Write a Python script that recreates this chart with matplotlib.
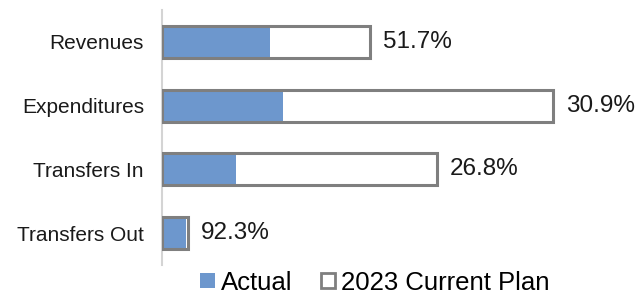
import matplotlib as mpl
mpl.use('Agg')
import matplotlib.pyplot as plt
from matplotlib.patches import Patch

plt.rcParams['font.family'] = ['Liberation Sans', 'DejaVu Sans']

# budget categories, plan vs actual (relative units)
categories = ['Revenues', 'Expenditures', 'Transfers In', 'Transfers Out']
plan = [208, 391, 275, 26]
actual = [107.5, 120.8, 73.7, 24.0]
pct_labels = ['51.7%', '30.9%', '26.8%', '92.3%']

blue = '#6d97cd'
edge = '#7f7f7f'

fig = plt.figure(figsize=(6.39, 2.97), dpi=100)
ax = fig.add_axes([162/639, 0.108, 458/639, 0.858])

y = list(range(len(categories)))
ax.barh(y, plan, height=0.5, color='white', edgecolor='none', zorder=1)
ax.barh(y, actual, height=0.5, color=blue, edgecolor='none', zorder=2)
ax.barh(y, plan, height=0.5, color='none', edgecolor=edge, linewidth=2.2, zorder=3)

for yi, p, lab in zip(y, plan, pct_labels):
    ax.annotate(lab, xy=(p, yi), xytext=(9.5, 0), textcoords='offset points',
                va='center', ha='left', fontsize=17.5, color='#1a1a1a')

ax.set_xlim(0, 458)
ax.set_ylim(3.5, -0.5)
ax.set_yticks(y)
ax.set_yticklabels(categories, fontsize=15, color='#1a1a1a')
ax.tick_params(axis='y', length=0, pad=13)
ax.set_xticks([])
for s in ['top', 'right', 'bottom']:
    ax.spines[s].set_visible(False)
ax.spines['left'].set_color('#d4d4d4')
ax.spines['left'].set_linewidth(1.5)

handles = [Patch(facecolor=blue, edgecolor='none', label='Actual'),
           Patch(facecolor='white', edgecolor=edge, linewidth=2, label='2023 Current Plan')]
fig.legend(handles=handles, loc='center', bbox_to_anchor=(0.587, 0.048), ncol=2,
           frameon=False, fontsize=18.5, handlelength=0.55, handleheight=0.55,
           handletextpad=0.25, columnspacing=1.1, borderpad=0)

fig.savefig('out.png', dpi=100)
